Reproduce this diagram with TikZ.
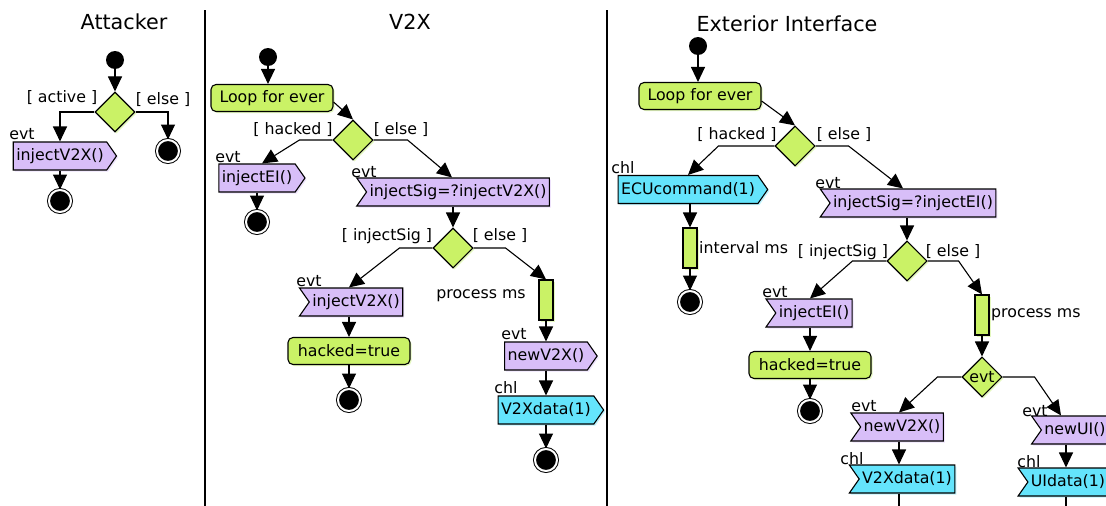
\documentclass[tikz,border=0pt]{standalone}
\usepackage{fontspec}
\setmainfont{DejaVu Sans}
\usetikzlibrary{shapes.geometric,shapes.symbols,arrows.meta,shadows,calc}
\definecolor{gfill}{RGB}{202,242,102}
\definecolor{gshad}{RGB}{228,248,190}
\definecolor{pfill}{RGB}{216,190,248}
\definecolor{pshad}{RGB}{238,226,252}
\definecolor{cfill}{RGB}{100,228,252}
\definecolor{cshad}{RGB}{190,242,252}
\tikzset{
 txt/.style={text=black,font=\fontsize{15.8}{18}\selectfont},
 base/.style={txt,draw=black,line width=1.1pt},
 gshadow/.style={drop shadow={shadow xshift=1.5pt,shadow yshift=-1.5pt,fill=gshad,opacity=1}},
 act/.style={base,rectangle,rounded corners=5pt,fill=gfill,minimum width=122pt,minimum height=27pt,inner sep=0pt,gshadow},
 dec/.style={base,diamond,fill=gfill,minimum width=40pt,minimum height=40pt,inner sep=0pt,gshadow},
 barn/.style={base,rectangle,fill=gfill,minimum width=14pt,minimum height=40pt,inner sep=0pt,gshadow},
 sig/.style={base,signal,signal pointer angle=110,minimum height=28pt,inner xsep=3pt,inner ysep=0pt},
 send/.style={sig,signal to=east,signal from=nowhere},
 recv/.style={sig,signal to=nowhere,signal from=west},
 purp/.style={fill=pfill,drop shadow={shadow xshift=1.5pt,shadow yshift=-1.5pt,fill=pshad,opacity=1}},
 cyanf/.style={fill=cfill,drop shadow={shadow xshift=1.5pt,shadow yshift=-1.5pt,fill=cshad,opacity=1}},
 lbl/.style={txt,inner sep=0pt},
 ttl/.style={text=black,font=\fontsize{20.7}{24}\selectfont,inner sep=0pt},
 init/.style={circle,fill=black,minimum size=18pt,inner sep=0pt},
 final/.style={circle,fill=black,draw=black,double=white,double distance=2pt,line width=1pt,minimum size=22pt,inner sep=0pt},
 arr/.style={line width=1.1pt,draw=black,-{Triangle[length=15pt 0 0,width=14pt 0 0]}},
 plainline/.style={line width=1.1pt,draw=black},
 divl/.style={line width=1.2pt,draw=black}
}
\begin{document}
\begin{tikzpicture}[x=1pt,y=-1pt]
\useasboundingbox (0,0) rectangle (1106,506);
\clip (0,0) rectangle (1106,506);
\fill[white] (0,0) rectangle (1106,506);

% dividers
\coordinate (dv1t) at (205,10); \coordinate (dv1b) at (205,506);
\coordinate (dv2t) at (607,10); \coordinate (dv2b) at (607,506);
\draw[divl] (dv1t) -- (dv1b);
\draw[divl] (dv2t) -- (dv2b);

% titles
\node[ttl] (tA) at (124,22) {Attacker};
\node[ttl] (tV) at (410,22) {V2X};
\node[ttl] (tE) at (787,24) {Exterior Interface};

% ---------------- Attacker
\node[init] (iA) at (115,60) {};
\node[dec] (dA) at (115,112) {};
\node[lbl] (gA1) at (62,98) {[ active ]};
\node[lbl] (gA2) at (163,100) {[ else ]};
\node[send,purp] (sA1) at (60,156) {injectV2X()};
\node[lbl] (lA1) at (22,134) {evt};
\node[final] (fA1) at (168,151) {};
\node[final] (fA2) at (60,201) {};
\draw[arr] (iA) -- (dA);
\draw[arr] (dA.west) -| (sA1.north);
\draw[arr] (dA.east) -| (fA1.north);
\draw[arr] (sA1.south) -- (fA2.north);

% ---------------- V2X
\node[init] (iV) at (268,57) {};
\node[act] (lpV) at (272,98) {Loop for ever};
\node[dec] (dV1) at (353,140) {};
\node[lbl] (gV1) at (293,130) {[ hacked ]};
\node[lbl] (gV2) at (401,130) {[ else ]};
\node[send,purp] (sV1) at (257,178) {injectEI()};
\node[lbl] (lV1) at (228,157) {evt};
\node[final] (fV1) at (257,222) {};
\node[recv,purp] (aV1) at (458,192) {injectSig=?injectV2X()};
\node[lbl] (lV2) at (364,172) {evt};
\node[dec] (dV2) at (453,248) {};
\node[lbl] (gV3) at (387,236) {[ injectSig ]};
\node[lbl] (gV4) at (500,236) {[ else ]};
\node[recv,purp] (aV2) at (356,302) {injectV2X()};
\node[lbl] (lV3) at (309,281) {evt};
\node[act] (bV1) at (349,351) {hacked=true};
\node[final] (fV2) at (349,400) {};
\node[barn] (barV) at (546,300) {};
\node[lbl] (lV4) at (481,296) {process ms};
\node[send,purp] (sV2) at (546,356) {newV2X()};
\node[lbl] (lV5) at (514,334) {evt};
\node[send,cyanf] (sV3) at (546,410) {V2Xdata(1)};
\node[lbl] (lV6) at (506,388) {chl};
\node[final] (fV3) at (546,460) {};

\draw[arr] (iV) -- (iV |- lpV.north);
\draw[arr] ([yshift=-4pt]lpV.east) -- (dV1.north);
\draw[arr] (dV1.west) -- ++(-33,0) -- ([xshift=5pt]sV1.north);
\draw[arr] (sV1.south) -- (fV1.north);
\draw[arr] (dV1.east) -- ++(34,0) -- ([xshift=-6pt]aV1.north);
\draw[arr] (dV2 |- aV1.south) -- (dV2.north);
\draw[arr] (dV2.west) -- ++(-33,0) -- (aV2.north -| bV1);
\draw[arr] (bV1 |- aV2.south) -- (bV1.north);
\draw[arr] (bV1.south) -- (fV2.north);
\draw[arr] (dV2.east) -- ++(32,0) -- (barV.north);
\draw[arr] (barV.south) -- (sV2.north);
\draw[arr] (sV2.south) -- (sV3.north);
\draw[arr] (sV3.south) -- (fV3.north);

% ---------------- Exterior Interface
\node[init] (iE) at (698,46) {};
\node[act] (lpE) at (700,96) {Loop for ever};
\node[dec] (dE1) at (795,146) {};
\node[lbl] (gE1) at (737,135) {[ hacked ]};
\node[lbl] (gE2) at (844,135) {[ else ]};
\node[send,cyanf] (sE1) at (688,189.5) {ECUcommand(1)};
\node[lbl] (lE1) at (623,168) {chl};
\node[barn] (barE1) at (690,248) {};
\node[lbl,anchor=west] (lE2) at (699,248) {interval ms};
\node[final] (fE1) at (690,302) {};
\node[recv,purp] (aE1) at (913,203) {injectSig=?injectEI()};
\node[lbl] (lE3) at (828,183) {evt};
\node[dec] (dE2) at (907,261) {};
\node[lbl] (gE3) at (843,252) {[ injectSig ]};
\node[lbl] (gE4) at (953,252) {[ else ]};
\node[recv,purp] (aE2) at (814,313) {injectEI()};
\node[lbl] (lE4) at (775,292) {evt};
\node[act] (bE1) at (810,365) {hacked=true};
\node[final] (fE2) at (810,411) {};
\node[barn] (barE2) at (982,315) {};
\node[lbl,anchor=west] (lE5) at (991,315) {process ms};
\node[dec] (dE3) at (982,377) {evt};
\node[recv,purp] (aE3) at (902,427) {newV2X()};
\node[lbl] (lE6) at (864,406) {evt};
\node[recv,cyanf] (aE4) at (907,479) {V2Xdata(1)};
\node[lbl] (lE7) at (852,459) {chl};
\coordinate (eE1) at (899,510);
\node[recv,purp] (aE5) at (1075,430) {newUI()};
\node[lbl] (lE8) at (1035,411) {evt};
\node[recv,cyanf] (aE6) at (1068,482) {UIdata(1)};
\node[lbl] (lE9) at (1029,462) {chl};
\coordinate (eE2) at (1066,510);

\draw[arr] (iE) -- (iE |- lpE.north);
\draw[arr] ([yshift=-5pt]lpE.east) -- (dE1.north);
\draw[arr] (dE1.west) -- ++(-56,0) -- (sE1.north);
\draw[arr] (sE1.south -| barE1) -- (barE1.north);
\draw[arr] (barE1.south) -- (fE1.north);
\draw[arr] (dE1.east) -- ++(33,0) -- ([xshift=-10pt]aE1.north);
\draw[arr] (dE2 |- aE1.south) -- (dE2.north);
\draw[arr] (dE2.west) -- ++(-34,0) -- (aE2.north -| bE1);
\draw[arr] (bE1 |- aE2.south) -- (bE1.north);
\draw[arr] (bE1.south) -- (fE2.north);
\draw[arr] (dE2.east) -- ++(31,0) -- (barE2.north);
\draw[arr] (barE2.south) -- (dE3.north);
\draw[arr] (dE3.west) -- ++(-24,0) -- (aE3.north -| eE1);
\draw[arr] (eE1 |- aE3.south) -- (eE1 |- aE4.north);
\draw[plainline] (eE1 |- aE4.south) -- (eE1);
\draw[arr] (dE3.east) -- ++(32,0) -- ([xshift=-14pt]aE5.north);
\draw[arr] (eE2 |- aE5.south) -- (eE2 |- aE6.north);
\draw[plainline] (eE2 |- aE6.south) -- (eE2);
\end{tikzpicture}
\end{document}
